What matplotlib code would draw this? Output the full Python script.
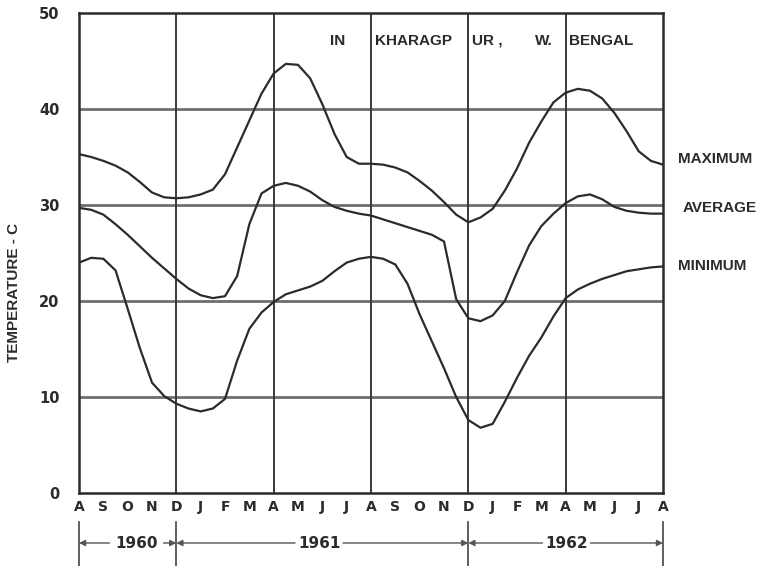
import numpy as np
import matplotlib
matplotlib.use("Agg")
import matplotlib.pyplot as plt
from matplotlib.transforms import blended_transform_factory

# ---------------- data ----------------
month_labels = ["A", "S", "O", "N", "D", "J", "F", "M", "A", "M", "J", "J", "A",
                "S", "O", "N", "D", "J", "F", "M", "A", "M", "J", "J", "A"]
# readings every half month, Aug 1960 (0) .. Aug 1962 (24)
months = np.arange(0, 24.5, 0.5)

t_max = [35.3, 35.0, 34.6, 34.1, 33.4, 32.4, 31.3, 30.8, 30.7, 30.8,
         31.1, 31.6, 33.2, 36.0, 38.8, 41.6, 43.7, 44.7, 44.6, 43.2,
         40.5, 37.4, 35.0, 34.3, 34.3, 34.2, 33.9, 33.4, 32.5, 31.5,
         30.3, 29.0, 28.2, 28.7, 29.6, 31.5, 33.8, 36.5, 38.7, 40.7,
         41.7, 42.1, 41.9, 41.1, 39.6, 37.7, 35.6, 34.6, 34.2]

t_avg = [29.7, 29.5, 29.0, 28.0, 26.9, 25.7, 24.5, 23.4, 22.3, 21.3,
         20.6, 20.3, 20.5, 22.6, 28.0, 31.2, 32.0, 32.3, 32.0, 31.4,
         30.5, 29.8, 29.4, 29.1, 28.9, 28.5, 28.1, 27.7, 27.3, 26.9,
         26.2, 20.2, 18.2, 17.9, 18.5, 20.0, 23.0, 25.8, 27.8, 29.1,
         30.2, 30.9, 31.1, 30.6, 29.8, 29.4, 29.2, 29.1, 29.1]

t_min = [24.0, 24.5, 24.4, 23.2, 19.2, 15.1, 11.5, 10.1, 9.3, 8.8,
         8.5, 8.8, 9.8, 13.8, 17.1, 18.8, 19.9, 20.7, 21.1, 21.5,
         22.1, 23.1, 24.0, 24.4, 24.6, 24.4, 23.8, 21.8, 18.6, 15.8,
         13.0, 10.0, 7.6, 6.8, 7.2, 9.5, 12.0, 14.3, 16.2, 18.4,
         20.3, 21.2, 21.8, 22.3, 22.7, 23.1, 23.3, 23.5, 23.6]

series_names = ["MAXIMUM", "AVERAGE", "MINIMUM"]
y_ticks = [0, 10, 20, 30, 40, 50]
v_grid = [4, 8, 12, 16, 20]
h_grid = [10, 20, 30, 40]
years = ["1960", "1961", "1962"]
year_bounds = [0, 4, 16, 24]
title_parts = [("IN", 10.3), ("KHARAGP", 12.15), ("UR ,", 16.15), ("W.", 18.75), ("BENGAL", 20.15)]

# ---------------- figure ----------------
W, H = 769, 566
fig = plt.figure(figsize=(W / 100, H / 100), dpi=100)
fig.patch.set_facecolor("white")
L, R, T, B = 79, 663, 13, 493
ax = fig.add_axes([L / W, 1 - B / H, (R - L) / W, (B - T) / H])
ax.set_xlim(0, 24)
ax.set_ylim(0, 50)

ink = "#2b2b2b"
for s in ax.spines.values():
    s.set_color(ink)
    s.set_linewidth(1.8)

for g in h_grid:
    ax.axhline(g, color="#6e6e6e", lw=2.0, zorder=1)
for g in v_grid:
    ax.axvline(g, color="#3a3a3a", lw=1.4, zorder=1)

for ys in (t_max, t_avg, t_min):
    ax.plot(months, ys, color=ink, lw=1.6, zorder=3, solid_joinstyle="round")

numfont = dict(family="DejaVu Sans", weight="bold", size=10.5, color=ink)
ax.set_yticks(y_ticks)
ax.set_yticklabels([str(v) for v in y_ticks], fontdict=numfont)
ax.set_xticks(range(len(month_labels)))
ax.set_xticklabels(month_labels, fontdict=dict(family="DejaVu Sans", weight="bold", size=10, color=ink))
ax.tick_params(axis="y", length=0, pad=14)
ax.tick_params(axis="x", length=0, pad=5)

wordfont = dict(family="Liberation Sans", weight="bold", color=ink)
for txt, xm in title_parts:
    ax.text(xm, 47.1, txt, ha="left", va="center", fontsize=11, **wordfont)

# right-side series labels
label_pos = [(678, 159), (683, 208), (678, 266)]
for name, (px, py) in zip(series_names, label_pos):
    fig.text(px / W, 1 - py / H, name, ha="left", va="center", fontsize=11, **wordfont)

# y label
fig.text(14 / W, 1 - 292 / H, "TEMPERATURE - C", rotation=90, ha="center", va="center",
         fontsize=11, **wordfont)

# year brackets
tr = blended_transform_factory(ax.transData, ax.transAxes)
y_row = (B - 543) / (B - T)
y_top = (B - 522) / (B - T)
y_bot = (B - 566) / (B - T)
for xb in year_bounds:
    ax.plot([xb, xb], [y_top, y_bot], transform=tr, color="#444444", lw=1.2, clip_on=False)

year_text_x = [(111 + 162) / 2, (300 + 338) / 2, (547 + 586) / 2]
year_half = [27, 24, 24]
ap = dict(arrowstyle="-|>", color="#555555", lw=1.0, mutation_scale=9, shrinkA=0, shrinkB=0)
for i, yr in enumerate(years):
    x0, x1 = year_bounds[i], year_bounds[i + 1]
    cx = (year_text_x[i] - L) / (R - L) * 24
    hw = year_half[i] / (R - L) * 24
    ax.text(cx, y_row, yr, transform=tr, ha="center", va="center", fontsize=11,
            family="DejaVu Sans", weight="bold", color=ink)
    ax.annotate("", xy=(x0, y_row), xytext=(cx - hw, y_row), xycoords=tr, textcoords=tr,
                arrowprops=ap, annotation_clip=False)
    ax.annotate("", xy=(x1, y_row), xytext=(cx + hw, y_row), xycoords=tr, textcoords=tr,
                arrowprops=ap, annotation_clip=False)

fig.savefig("out.png", dpi=100, facecolor="white")
